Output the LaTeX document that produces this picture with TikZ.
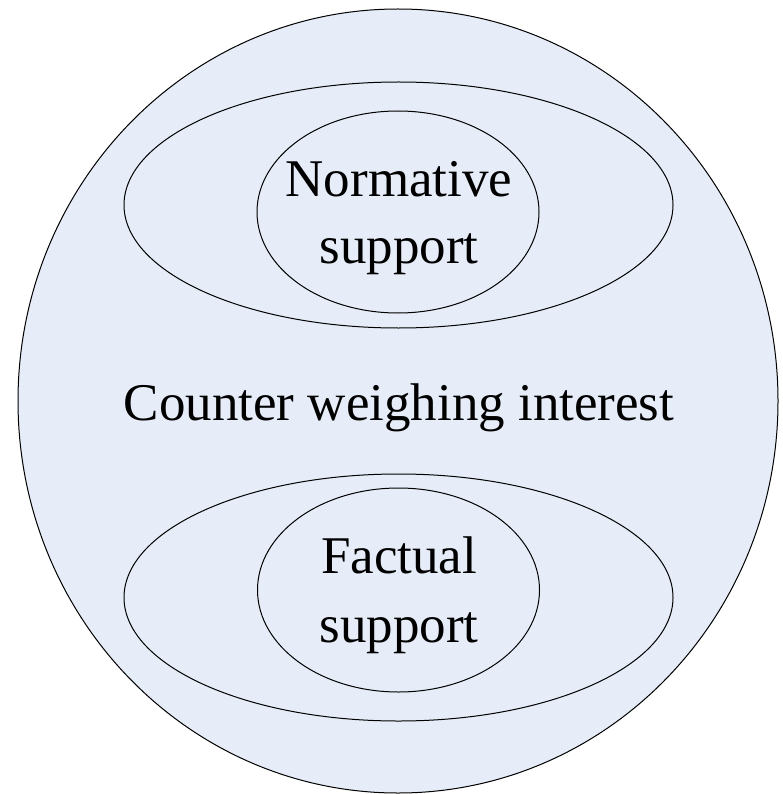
\documentclass[tikz,border=0pt]{standalone}
\usepackage{fontspec}
\setmainfont{Liberation Serif}
\usetikzlibrary{shapes.geometric}
\definecolor{bgfill}{RGB}{230,237,248}
\begin{document}
\begin{tikzpicture}[x=1pt,y=-1pt,
  ring/.style={draw=black,line width=1pt},
  lbl/.style={anchor=base,inner sep=0pt,font=\fontsize{53}{60}\selectfont}]
\useasboundingbox (0,0) rectangle (782,794);
\fill[bgfill] (398,401) ellipse [x radius=380,y radius=392];
\draw[ring] (398,401) ellipse [x radius=380,y radius=392];
\coordinate (outer) at (398,401);
\draw[ring] (398.5,205) ellipse [x radius=274.5,y radius=123];
\draw[ring] (398,212) ellipse [x radius=141,y radius=101];
\draw[ring] (398.5,597.5) ellipse [x radius=274.5,y radius=123.5];
\draw[ring] (398.5,590) ellipse [x radius=141,y radius=102];
\node[lbl] (norm1) at (399,197) {Normative};
\node[lbl] (norm2) at (399,263) {support};
\node[lbl] (cwi) at (399,420) {Counter weighing interest};
\node[lbl] (fact1) at (399,573) {Factual};
\node[lbl] (fact2) at (399,642) {support};
\end{tikzpicture}
\end{document}
